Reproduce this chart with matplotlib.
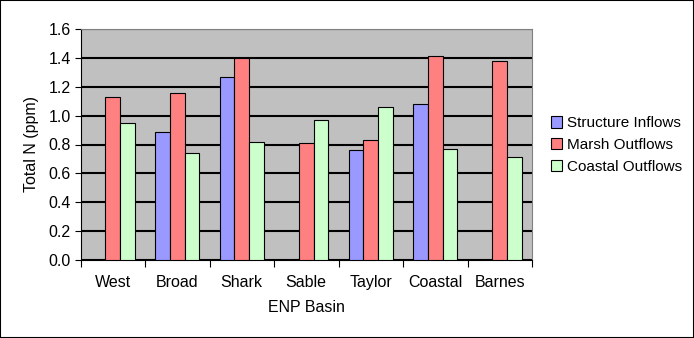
import numpy as np
import matplotlib.pyplot as plt
from matplotlib.patches import Rectangle

plt.rcParams['font.family'] = ['Liberation Sans', 'DejaVu Sans']

basins = ['West', 'Broad', 'Shark', 'Sable', 'Taylor', 'Coastal', 'Barnes']
structure_inflows = [np.nan, 0.89, 1.27, np.nan, 0.76, 1.08, np.nan]
marsh_outflows = [1.13, 1.16, 1.40, 0.81, 0.83, 1.41, 1.38]
coastal_outflows = [0.95, 0.74, 0.82, 0.97, 1.06, 0.77, 0.71]
y_ticks = [0.0, 0.2, 0.4, 0.6, 0.8, 1.0, 1.2, 1.4, 1.6]

series = [
    ('Structure Inflows', structure_inflows, '#9999FF'),
    ('Marsh Outflows', marsh_outflows, '#FF8080'),
    ('Coastal Outflows', coastal_outflows, '#CCFFCC'),
]

fs = 11.5
fig = plt.figure(figsize=(6.94, 3.38), dpi=100)
ax = fig.add_axes([80.5 / 694, 1 - 260 / 338, (532 - 80.5) / 694, (260 - 29) / 338])
ax.set_facecolor('#C0C0C0')

x = np.arange(len(basins))
w = 0.225
for i, (name, vals, col) in enumerate(series):
    ax.bar(x + (i - 1) * w, vals, w, color=col, edgecolor='black', linewidth=0.8,
           label=name, zorder=3)

ax.set_xlim(-0.5, len(basins) - 0.5)
ax.set_ylim(0, 1.6)
ax.set_yticks(y_ticks)
ax.set_yticklabels([f'{v:.1f}' for v in y_ticks], fontsize=fs)
ax.yaxis.grid(True, color='black', linewidth=1.5, zorder=1)
ax.set_axisbelow(True)

ax.set_xticks(np.arange(len(basins) + 1) - 0.5)
ax.set_xticklabels([])
ax.set_xticks(x, minor=True)
ax.set_xticklabels(basins, minor=True, fontsize=fs)
ax.tick_params(axis='x', which='minor', length=0, pad=11)
ax.tick_params(axis='x', which='major', length=5, direction='out', color='black')
ax.tick_params(axis='y', length=4, direction='out', color='black', pad=3)

for s in ['top', 'right']:
    ax.spines[s].set_color('#808080')
for s in ['left', 'bottom']:
    ax.spines[s].set_color('black')

ax.set_xlabel('ENP Basin', fontsize=fs, labelpad=7)
ax.set_ylabel('Total N (ppm)', fontsize=fs, labelpad=7)

leg = fig.legend(loc='center left', bbox_to_anchor=(537 / 694, 1 - 145 / 338),
                 frameon=False, fontsize=11, handlelength=0.75, handleheight=0.75,
                 handletextpad=0.3, labelspacing=0.5)

fig.patches.append(Rectangle((0, 0), 1, 1, transform=fig.transFigure, fill=False,
                             edgecolor='black', linewidth=1.5))

fig.savefig('out.png', dpi=100)
